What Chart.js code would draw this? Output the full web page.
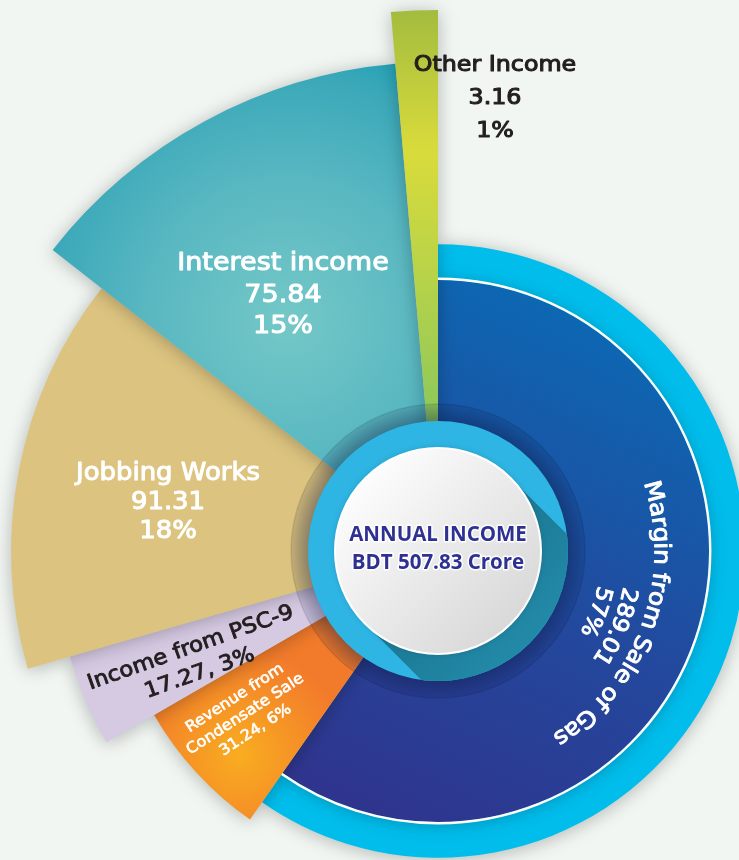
<!DOCTYPE html>
<html><head><meta charset="utf-8">
<script src="https://cdn.jsdelivr.net/npm/chart.js@4.4.1/dist/chart.umd.min.js"></script>
<style>
html,body{margin:0;padding:0;width:739px;height:860px;overflow:hidden;background:#f1f6f2;}
#wrap{position:absolute;left:-162px;top:-49px;width:1200px;height:1200px;}
</style></head><body>
<div id="wrap"><canvas id="c" width="1200" height="1200"></canvas></div>
<script>
// ---- data ----
const categories = ['Margin from Sale of Gas', 'Revenue from\nCondensate Sale', 'Income from PSC-9', 'Jobbing Works', 'Interest income', 'Other Income'];
const incomeValues = [289.01, 31.24, 17.27, 91.31, 75.84, 3.16];
const percentLabels = ['57%', '6%', '3%', '18%', '15%', '1%'];
const sliceAngles = [215, 25, 14, 54, 47, 5];            // degrees swept by each slice, as drawn
const sliceReach = [50.1, 60.6, 70.8, 78.9, 90.4, 100];   // relative radial reach of each slice, as drawn
const ringReach = [56.7, 0, 0, 0, 0, 0];                  // outer accent ring (gas slice only)
const totalLines = ['ANNUAL INCOME', 'BDT 507.83 Crore'];

const FONT = '"DejaVu Sans", sans-serif';
const STRETCH = 1.08;
const labelStyle = [
  {type: 'arc', radii: [225, 197, 172], angles: [110, 113, 111], size: [23, 22, 22], color: '#ffffff', weight: 0.9},
  {type: 'rot', dx: -204, dy: 146, rot: -33, size: 15, gap: 19, color: '#ffffff', join: true, weight: 0.6},
  {type: 'rot', dx: -248, dy: 95, rot: -19.5, size: 21, gap: 27, color: '#231f20', join: true, weight: 0.9},
  {type: 'rot', dx: -270, dy: -79.5, rot: 0, size: 24, gap: 29, color: '#ffffff', weight: 1.0},
  {type: 'rot', dx: -155, dy: -290, rot: 0, size: 25, gap: 31.5, color: '#ffffff', weight: 1.0},
  {type: 'rot', dx: 57, dy: -488, rot: 0, size: 22, gap: 33, color: '#231f20', weight: 1.1}
];
const flatColors = ['#1d4f9f', '#f28a2a', '#d6cae3', '#dcc37f', '#4fb1be', '#c7d545'];

function sliceFill(context) {
  const chart = context.chart, i = context.dataIndex;
  const sc = chart.scales && chart.scales.r;
  if (!sc || !chart.chartArea || !isFinite(sc.xCenter)) return flatColors[i];
  const ctx = chart.ctx, cx = sc.xCenter, cy = sc.yCenter;
  let g;
  switch (i) {
    case 0:
      g = ctx.createLinearGradient(cx + 150, cy - 270, cx - 100, cy + 270);
      g.addColorStop(0, '#0a6bb5'); g.addColorStop(0.55, '#23489d'); g.addColorStop(1, '#30338c');
      return g;
    case 1:
      g = ctx.createRadialGradient(cx - 198, cy + 204, 0, cx - 198, cy + 204, 105);
      g.addColorStop(0, '#f9ad20'); g.addColorStop(1, '#f27b2b');
      return g;
    case 2: return '#d6cae3';
    case 3: return '#dcc37f';
    case 4:
      g = ctx.createRadialGradient(cx - 150, cy - 230, 0, cx - 150, cy - 230, 290);
      g.addColorStop(0, '#74c8c7'); g.addColorStop(0.5, '#58b7c1'); g.addColorStop(0.85, '#3aa8b9'); g.addColorStop(1, '#1ca0b6');
      return g;
    case 5:
      g = ctx.createLinearGradient(0, cy - 541, 0, cy - 140);
      g.addColorStop(0, '#a3bc3e'); g.addColorStop(0.35, '#d9db3b'); g.addColorStop(0.65, '#b9d348'); g.addColorStop(1, '#8fc85a');
      return g;
  }
  return flatColors[i];
}

function paintText(ctx, s, x, y, size, color, weight) {
  ctx.font = size + 'px ' + FONT;
  ctx.fillStyle = color;
  ctx.strokeStyle = color;
  ctx.lineWidth = weight;
  ctx.lineJoin = 'round';
  ctx.textAlign = 'center';
  ctx.textBaseline = 'alphabetic';
  ctx.fillText(s, x, y);
  if (weight > 0) ctx.strokeText(s, x, y);
}

function drawLine(ctx, s, size, color, weight) {
  ctx.save();
  ctx.scale(STRETCH, 1);
  paintText(ctx, s, 0, 0.365 * size, size, color, weight);
  ctx.restore();
}

function arcText(ctx, s, cx, cy, r, centerDeg, size, color, weight) {
  ctx.save();
  ctx.font = size + 'px ' + FONT;
  const chars = [...s];
  const widths = chars.map(ch => ctx.measureText(ch).width * STRETCH);
  const total = widths.reduce((a, b) => a + b, 0);
  let a = centerDeg * Math.PI / 180 - total / (2 * r);
  chars.forEach((ch, k) => {
    const w = widths[k];
    const ang = a + w / (2 * r);
    ctx.save();
    ctx.translate(cx, cy);
    ctx.rotate(ang);
    ctx.translate(0, -r);
    ctx.scale(STRETCH, 1);
    paintText(ctx, ch, 0, 0.365 * size, size, color, weight);
    ctx.restore();
    a += w / r;
  });
  ctx.restore();
}

const decor = {
  id: 'decor',
  beforeDatasetsDraw(chart) {
    const ctx = chart.ctx;
    ctx.save();
    ctx.shadowColor = 'rgba(0,0,0,0.26)';
    ctx.shadowBlur = 18;
    ctx.shadowOffsetX = 0;
    ctx.shadowOffsetY = 2;
  },
  afterDatasetsDraw(chart) {
    const ctx = chart.ctx;
    ctx.restore();
    const sc = chart.scales.r;
    const cx = sc.xCenter, cy = sc.yCenter;
    const TAU = Math.PI * 2;

    // white separator on the gas slice
    const gas = chart.getDatasetMeta(0).data[0];
    ctx.save();
    ctx.beginPath();
    ctx.arc(gas.x, gas.y, gas.outerRadius + 1.2, gas.startAngle, gas.endAngle);
    ctx.strokeStyle = '#ffffff';
    ctx.lineWidth = 2.4;
    ctx.stroke();
    ctx.restore();

    // dark halo around centre
    ctx.save();
    let g = ctx.createRadialGradient(cx, cy, 128, cx, cy, 147);
    g.addColorStop(0, 'rgba(10,20,60,0.40)');
    g.addColorStop(0.85, 'rgba(10,20,60,0.16)');
    g.addColorStop(1, 'rgba(10,20,60,0.12)');
    ctx.beginPath(); ctx.arc(cx, cy, 147, 0, TAU); ctx.fillStyle = g; ctx.fill();
    ctx.strokeStyle = 'rgba(0,0,0,0.10)'; ctx.lineWidth = 1.5; ctx.stroke();

    // cyan disc
    ctx.beginPath(); ctx.arc(cx, cy, 130, 0, TAU); ctx.fillStyle = '#2eb5e3'; ctx.fill();

    // long shadow
    ctx.save();
    ctx.beginPath(); ctx.arc(cx, cy, 130, 0, TAU); ctx.clip();
    const R = 103, L = 220, s = Math.SQRT1_2;
    let sg = ctx.createLinearGradient(cx, cy, cx + 130 * s, cy + 130 * s);
    sg.addColorStop(0, '#1a7590'); sg.addColorStop(1, '#228aa8');
    ctx.beginPath();
    ctx.moveTo(cx + R * s, cy - R * s);
    ctx.lineTo(cx + R * s + L * s, cy - R * s + L * s);
    ctx.lineTo(cx - R * s + L * s, cy + R * s + L * s);
    ctx.lineTo(cx - R * s, cy + R * s);
    ctx.closePath();
    ctx.fillStyle = sg; ctx.fill();
    ctx.restore();

    // white disc
    ctx.save();
    ctx.shadowColor = 'rgba(0,0,0,0.18)';
    ctx.shadowBlur = 6;
    let wg = ctx.createLinearGradient(cx - 75, cy - 75, cx + 75, cy + 75);
    wg.addColorStop(0, '#fdfdfd'); wg.addColorStop(1, '#d8d8d8');
    ctx.beginPath(); ctx.arc(cx, cy, 103, 0, TAU);
    ctx.fillStyle = wg; ctx.fill();
    ctx.restore();
    ctx.beginPath(); ctx.arc(cx, cy, 103, 0, TAU);
    ctx.strokeStyle = '#ffffff'; ctx.lineWidth = 2; ctx.stroke();

    // centre text
    ctx.font = 'bold 20.5px "Open Sans", sans-serif';
    ctx.textAlign = 'center';
    ctx.textBaseline = 'alphabetic';
    ctx.lineJoin = 'round';
    ctx.strokeStyle = 'rgba(255,255,255,0.95)';
    ctx.lineWidth = 3;
    ctx.fillStyle = '#2e3192';
    ctx.strokeText(totalLines[0], cx, cy - 10);
    ctx.fillText(totalLines[0], cx, cy - 10);
    ctx.strokeText(totalLines[1], cx, cy + 18);
    ctx.fillText(totalLines[1], cx, cy + 18);
    ctx.restore();

    // slice labels
    categories.forEach((cat, i) => {
      const st = labelStyle[i];
      const lines = cat.split('\n');
      const val = incomeValues[i].toFixed(2);
      if (st.join) lines.push(val + ', ' + percentLabels[i]);
      else lines.push(val, percentLabels[i]);
      if (st.type === 'arc') {
        lines.forEach((ln, k) => arcText(ctx, ln, cx, cy, st.radii[k], st.angles[k], st.size[k], st.color, st.weight));
      } else {
        ctx.save();
        ctx.translate(cx + st.dx, cy + st.dy);
        ctx.rotate(st.rot * Math.PI / 180);
        lines.forEach((ln, k) => {
          ctx.save();
          ctx.translate(0, k * st.gap);
          drawLine(ctx, ln, st.size, st.color, st.weight);
          ctx.restore();
        });
        ctx.restore();
      }
    });
  }
};

new Chart(document.getElementById('c'), {
  type: 'polarArea',
  data: {
    labels: categories.map(c => c.replace('\n', ' ')),
    datasets: [
      {data: sliceReach, angle: sliceAngles, backgroundColor: sliceFill, borderWidth: 0, clip: false},
      {data: ringReach, angle: sliceAngles, backgroundColor: ['#00bdec', 'rgba(0,0,0,0)', 'rgba(0,0,0,0)', 'rgba(0,0,0,0)', 'rgba(0,0,0,0)', 'rgba(0,0,0,0)'], borderWidth: 0, clip: false}
    ]
  },
  options: {
    responsive: false,
    animation: false,
    layout: {padding: 59},
    plugins: {legend: {display: false}, tooltip: {enabled: false}},
    scales: {r: {display: false, min: 0, max: 100, startAngle: 0}}
  },
  plugins: [decor]
});
</script>
</body></html>
